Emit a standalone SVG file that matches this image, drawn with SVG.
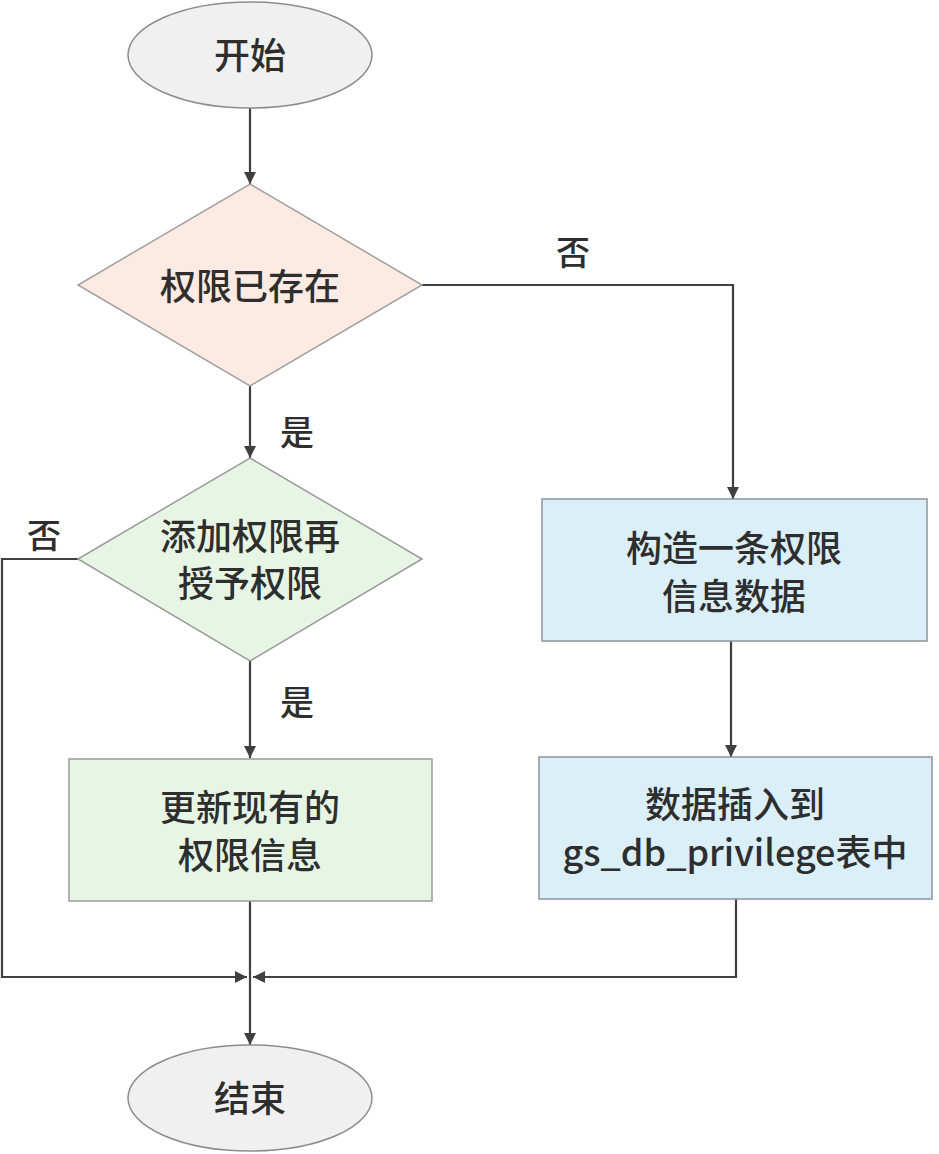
<svg xmlns="http://www.w3.org/2000/svg" width="939" height="1154" viewBox="0 0 939 1154">
<style>
  .t { font-family: "Noto Sans CJK SC", "Noto Sans", sans-serif; font-size: 36px; font-weight: 500; fill: #2e2e2e; text-anchor: middle; dominant-baseline: central; }
  .lbl { font-family: "Noto Sans CJK SC", "Noto Sans", sans-serif; font-size: 34px; font-weight: 500; fill: #2e2e2e; text-anchor: middle; dominant-baseline: central; }
  .term { fill: #f0f0f0; stroke: #8c8c8c; stroke-width: 1.5; }
  .dec1 { fill: #fdeae2; stroke: #a0a0a0; stroke-width: 1.5; }
  .green { fill: #e7f6e4; stroke: #9a9a9a; stroke-width: 1.5; }
  .blue { fill: #dbeff9; stroke: #8e9498; stroke-width: 1.5; }
  .edge { fill: none; stroke: #404040; stroke-width: 2.2; }
</style>
<defs>
  <marker id="arr" viewBox="0 0 12 12" refX="12" refY="6" markerWidth="12" markerHeight="12" markerUnits="userSpaceOnUse" orient="auto">
    <path d="M0,0 L12,6 L0,12 z" fill="#404040"/>
  </marker>
</defs>

<g id="connectors">
  <path class="edge" d="M250,108 L250,184" marker-end="url(#arr)"/>
  <path class="edge" d="M250,386 L250,458" marker-end="url(#arr)"/>
  <path class="edge" d="M250,661 L250,758" marker-end="url(#arr)"/>
  <path class="edge" d="M422,285 L733,285 L733,499" marker-end="url(#arr)"/>
  <path class="edge" d="M731,641 L731,757" marker-end="url(#arr)"/>
  <path class="edge" d="M78,559 L2,559 L2,977 L247,977" marker-end="url(#arr)"/>
  <path class="edge" d="M736,899 L736,977 L253,977" marker-end="url(#arr)"/>
  <path class="edge" d="M250,901 L250,1045" marker-end="url(#arr)"/>
  <text class="lbl" x="573" y="250">否</text>
  <text class="lbl" x="297" y="430">是</text>
  <text class="lbl" x="44" y="533">否</text>
  <text class="lbl" x="297" y="700">是</text>
</g>

<g id="start">
  <ellipse class="term" cx="250" cy="55" rx="122" ry="53"/>
  <text class="t" x="250" y="53">开始</text>
</g>

<g id="exists">
  <polygon class="dec1" points="250,184 422,285 250,386 78,285"/>
  <text class="t" x="250" y="284">权限已存在</text>
</g>

<g id="addgrant">
  <polygon class="green" points="250,458 422,559 250,661 78,559"/>
  <text class="t"><tspan x="250" y="534">添加权限再</tspan><tspan x="250" y="581">授予权限</tspan></text>
</g>

<g id="update">
  <rect class="green" x="69" y="759" width="363" height="142"/>
  <text class="t"><tspan x="250" y="805">更新现有的</tspan><tspan x="250" y="853">权限信息</tspan></text>
</g>

<g id="construct">
  <rect class="blue" x="542" y="499" width="385" height="142"/>
  <text class="t"><tspan x="734" y="546">构造一条权限</tspan><tspan x="734" y="594">信息数据</tspan></text>
</g>

<g id="insert">
  <rect class="blue" x="539" y="757" width="393" height="142"/>
  <text class="t"><tspan x="735" y="802">数据插入到</tspan><tspan x="735" y="850">gs_db_privilege表中</tspan></text>
</g>

<g id="end">
  <ellipse class="term" cx="250" cy="1098" rx="122" ry="53"/>
  <text class="t" x="250" y="1096">结束</text>
</g>
</svg>
